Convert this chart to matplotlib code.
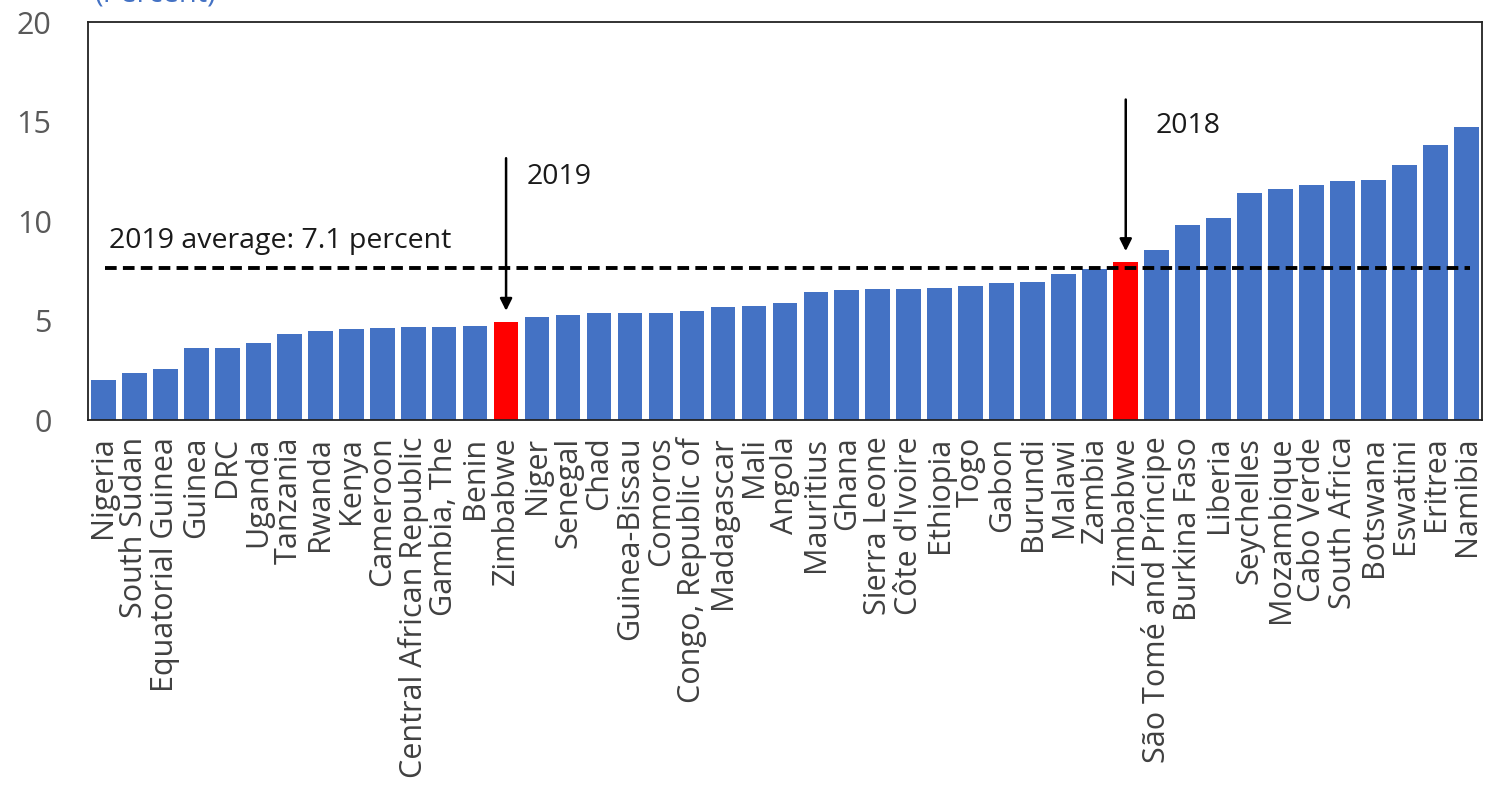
import numpy as np
import matplotlib.pyplot as plt

plt.rcParams['font.family'] = ['Open Sans', 'DejaVu Sans']

#-------------data--------------
countries = ["Nigeria", "South Sudan", "Equatorial Guinea", "Guinea", "DRC",
             "Uganda", "Tanzania", "Rwanda", "Kenya", "Cameroon",
             "Central African Republic", "Gambia, The", "Benin", "Zimbabwe",
             "Niger", "Senegal", "Chad", "Guinea-Bissau", "Comoros",
             "Congo, Republic of", "Madagascar", "Mali", "Angola", "Mauritius",
             "Ghana", "Sierra Leone", "Côte d'Ivoire", "Ethiopia", "Togo",
             "Gabon", "Burundi", "Malawi", "Zambia", "Zimbabwe",
             "São Tomé and Príncipe", "Burkina Faso", "Liberia", "Seychelles",
             "Mozambique", "Cabo Verde", "South Africa", "Botswana", "Eswatini",
             "Eritrea", "Namibia"]
values = [2.0, 2.35, 2.55, 3.6, 3.6, 3.85, 4.32, 4.48, 4.56, 4.61,
          4.67, 4.68, 4.75, 4.92, 5.2, 5.26, 5.4, 5.4, 5.4,
          5.5, 5.66, 5.74, 5.87, 6.45, 6.53, 6.58, 6.6, 6.63, 6.72,
          6.87, 6.93, 7.33, 7.6, 7.93, 8.54, 9.8, 10.17, 11.42,
          11.6, 11.8, 12.03, 12.06, 12.8, 13.82, 14.74]
highlight = [13, 33]          # Zimbabwe 2019 / Zimbabwe 2018
avg_level = 7.63
avg_label = "2019 average: 7.1 percent"
yticks = [0, 5, 10, 15, 20]

#-------------plot--------------
fig = plt.figure(figsize=(14.88, 7.91), dpi=100)
ax = fig.add_axes([0.059, 0.469, 0.937, 0.503])

x = np.arange(len(countries))
colors = ['#FF0000' if i in highlight else '#4472C4' for i in x]
ax.bar(x, values, width=0.8, color=colors, zorder=2)

ax.plot([0.05, 44.1], [avg_level, avg_level], color='black', lw=2.8,
        ls=(0, (3, 1.6)), zorder=3)
ax.text(0.2, 9.0, avg_label, fontsize=20.5, color='#1a1a1a', va='center')

# arrows
ax.annotate('', xy=(13, 5.35), xytext=(13, 13.3),
            arrowprops=dict(arrowstyle='-|>', color='black', lw=1.8,
                            mutation_scale=18), zorder=4)
ax.text(13.65, 12.2, "2019", fontsize=20.5, color='#1a1a1a', va='center')
ax.annotate('', xy=(33, 8.35), xytext=(33, 16.25),
            arrowprops=dict(arrowstyle='-|>', color='black', lw=1.8,
                            mutation_scale=18), zorder=4)
ax.text(33.95, 14.8, "2018", fontsize=20.5, color='#1a1a1a', va='center')

ax.set_xlim(-0.5, len(countries) - 0.5)
ax.set_ylim(0, 20)
ax.set_yticks(yticks)
ax.set_xticks(x)
ax.set_xticklabels(countries, rotation=90, fontsize=22, color='#404040')
ax.tick_params(axis='y', length=0, pad=26, labelsize=22, labelcolor='#595959')
ax.tick_params(axis='x', length=0, pad=12)
for s in ax.spines.values():
    s.set_linewidth(1.3)
    s.set_color('#222222')

# title sits mostly above the picture, as in the source crop
fig.text(0.064, 0.9985, "(Percent)", fontsize=21, color='#4472C4',
         va='baseline')

fig.savefig('out.png', dpi=100)
